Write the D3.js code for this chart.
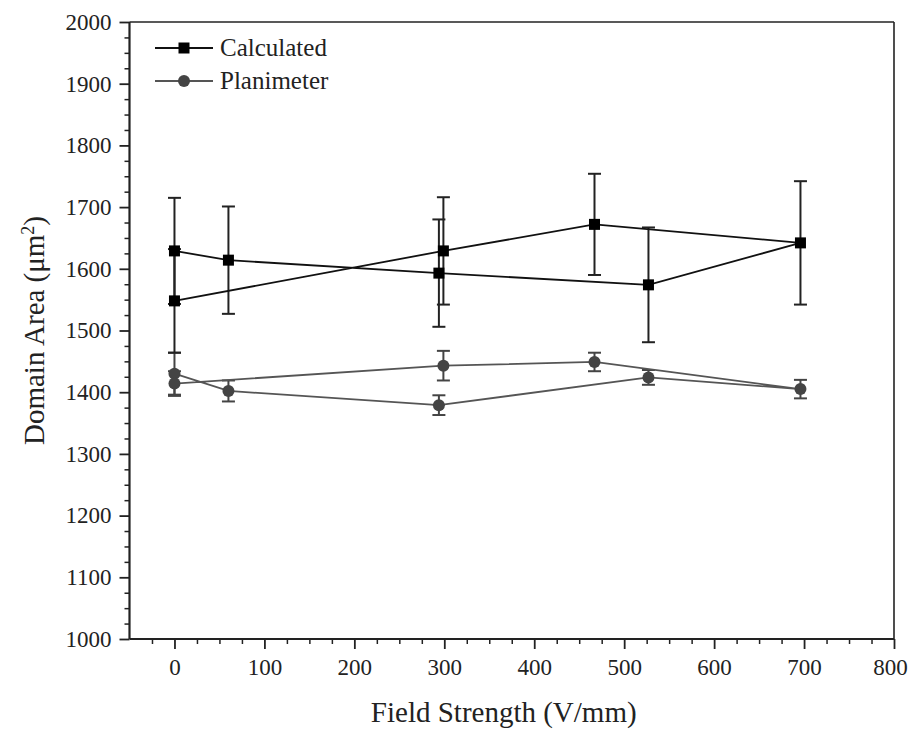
<!DOCTYPE html>
<html>
<head>
<meta charset="utf-8">
<script src="https://cdn.jsdelivr.net/npm/d3@7"></script>
<style>
    body { margin: 0; background: #fff; }
    text { font-family: "Liberation Serif", "Times New Roman", serif; fill: #222; }
</style>
</head>
<body>
<svg id="chart" width="909" height="729"></svg>
<script>
// values in measurement order (field up, then back down)
let calcField = [0, 60, 294, 527, 696, 467, 299, 0];
let calcArea = [1629, 1614, 1593, 1574, 1642, 1672, 1629, 1548];
let calcErr = [86, 87, 87, 93, 100, 82, 87, 84];

let planField = [0, 60, 294, 527, 696, 467, 299, 0];
let planArea = [1430, 1402, 1379, 1424, 1405, 1449, 1443, 1414];
let planErr = [34, 17, 16, 12, 15, 15, 24, 20];

let xTicks = [0, 100, 200, 300, 400, 500, 600, 700, 800];
let yTicks = [1000, 1100, 1200, 1300, 1400, 1500, 1600, 1700, 1800, 1900, 2000];
let seriesNames = ["Calculated", "Planimeter"];

function getChartConfig() {
    let svg = d3.select("#chart");
    let left = 129.5, right = 894, top = 22, bottom = 639;
    return { svg, left, right, top, bottom };
}

function getScales(config) {
    let { left, right, top, bottom } = config;
    let xScale = d3.scaleLinear().domain([-50, 800]).range([left, right]);
    let yScale = d3.scaleLinear().domain([1000, 2000]).range([bottom, top]);
    return { xScale, yScale };
}

function drawAxes(config, scales) {
    let { svg, left, right, top, bottom } = config;
    let { xScale, yScale } = scales;

    // minor ticks every 25
    let xMinor = d3.range(-25, 800, 25).filter(v => v % 100 !== 0);
    let yMinor = d3.range(1025, 2000, 25).filter(v => v % 100 !== 0);

    svg.append("g")
        .attr("transform", "translate(0," + bottom + ")")
        .call(d3.axisBottom(xScale).tickValues(xMinor).tickSize(5).tickFormat(""))
        .call(g => g.select(".domain").remove())
        .selectAll("line").attr("stroke", "#222").attr("stroke-width", 1.5);

    svg.append("g")
        .attr("transform", "translate(" + left + ",0)")
        .call(d3.axisLeft(yScale).tickValues(yMinor).tickSize(5).tickFormat(""))
        .call(g => g.select(".domain").remove())
        .selectAll("line").attr("stroke", "#222").attr("stroke-width", 1.5);

    let xAxis = svg.append("g")
        .attr("transform", "translate(0," + bottom + ")")
        .call(d3.axisBottom(xScale).tickValues(xTicks).tickSize(10).tickPadding(10).tickFormat(d3.format("d")));
    xAxis.select(".domain").remove();
    xAxis.selectAll("line").attr("stroke", "#222").attr("stroke-width", 1.8);
    xAxis.selectAll("text").style("font-size", "23px").attr("fill", "#222")
        .style("font-family", "Liberation Serif")
        .attr("dx", d => d === 800 ? -4 : 0);

    let yAxis = svg.append("g")
        .attr("transform", "translate(" + left + ",0)")
        .call(d3.axisLeft(yScale).tickValues(yTicks).tickSize(10).tickPadding(8).tickFormat(d3.format("d")));
    yAxis.select(".domain").remove();
    yAxis.selectAll("line").attr("stroke", "#222").attr("stroke-width", 1.8);
    yAxis.selectAll("text").style("font-size", "23px").attr("fill", "#222")
        .style("font-family", "Liberation Serif");

    // frame
    svg.append("line").attr("x1", left).attr("x2", right).attr("y1", bottom).attr("y2", bottom)
        .attr("stroke", "#222").attr("stroke-width", 2.2);
    svg.append("line").attr("x1", left).attr("x2", left).attr("y1", top).attr("y2", bottom)
        .attr("stroke", "#222").attr("stroke-width", 2.2);
    svg.append("line").attr("x1", left).attr("x2", right).attr("y1", top).attr("y2", top)
        .attr("stroke", "#222").attr("stroke-width", 1.6);
    svg.append("line").attr("x1", right).attr("x2", right).attr("y1", top).attr("y2", bottom)
        .attr("stroke", "#222").attr("stroke-width", 1.6);

    svg.append("text")
        .attr("x", (left + right) / 2 - 8)
        .attr("y", 722)
        .attr("text-anchor", "middle")
        .style("font-size", "29px")
        .text("Field Strength (V/mm)");

    let yLabel = svg.append("text")
        .attr("transform", "translate(44," + ((top + bottom) / 2) + ") rotate(-90)")
        .attr("text-anchor", "middle")
        .style("font-size", "29px");
    yLabel.append("tspan").text("Domain Area (\u03bcm");
    yLabel.append("tspan").attr("baseline-shift", "super").style("font-size", "18px").text("2");
    yLabel.append("tspan").text(")");
}

function drawSeries(config, scales, field, area, err, style) {
    let { svg } = config;
    let { xScale, yScale } = scales;
    let pts = field.map((f, i) => ({ x: f, y: area[i], e: err[i] }));

    let g = svg.append("g");

    // error bars
    let bars = g.selectAll(".err").data(pts).enter().append("g");
    bars.append("line")
        .attr("x1", d => xScale(d.x)).attr("x2", d => xScale(d.x))
        .attr("y1", d => yScale(d.y - d.e)).attr("y2", d => yScale(d.y + d.e))
        .attr("stroke", style.bar).attr("stroke-width", 2);
    [-1, 1].forEach(s => {
        bars.append("line")
            .attr("x1", d => xScale(d.x) - 6.5).attr("x2", d => xScale(d.x) + 6.5)
            .attr("y1", d => yScale(d.y + s * d.e)).attr("y2", d => yScale(d.y + s * d.e))
            .attr("stroke", style.bar).attr("stroke-width", 2);
    });

    let line = d3.line().x(d => xScale(d.x)).y(d => yScale(d.y));
    g.append("path")
        .datum(pts)
        .attr("d", line)
        .attr("fill", "none")
        .attr("stroke", style.line)
        .attr("stroke-width", 1.8);

    drawMarkers(g, pts.map(d => [xScale(d.x), yScale(d.y)]), style);
}

function drawMarkers(g, coords, style) {
    if (style.shape === "square") {
        g.selectAll(".mk").data(coords).enter().append("rect")
            .attr("x", d => d[0] - 5.5).attr("y", d => d[1] - 5.5)
            .attr("width", 11).attr("height", 11)
            .attr("fill", style.fill);
    } else {
        g.selectAll(".mk").data(coords).enter().append("circle")
            .attr("cx", d => d[0]).attr("cy", d => d[1]).attr("r", 6)
            .attr("fill", style.fill);
    }
}

function drawLegend(config, styles) {
    let { svg } = config;
    let rows = [48, 81];
    seriesNames.forEach((name, i) => {
        let st = styles[i];
        let g = svg.append("g");
        g.append("line").attr("x1", 155).attr("x2", 213).attr("y1", rows[i]).attr("y2", rows[i])
            .attr("stroke", st.line).attr("stroke-width", 1.8);
        drawMarkers(g, [[184, rows[i]]], st);
        g.append("text").attr("x", 220).attr("y", rows[i] + 8)
            .style("font-size", "25px").text(name);
    });
}

function drawChart() {
    let config = getChartConfig();
    let scales = getScales(config);
    let calcStyle = { shape: "square", fill: "#000", line: "#111", bar: "#222" };
    let planStyle = { shape: "circle", fill: "#444", line: "#555", bar: "#444" };
    drawAxes(config, scales);
    drawSeries(config, scales, planField, planArea, planErr, planStyle);
    drawSeries(config, scales, calcField, calcArea, calcErr, calcStyle);
    drawLegend(config, [calcStyle, planStyle]);
}

drawChart();
</script>
</body>
</html>
